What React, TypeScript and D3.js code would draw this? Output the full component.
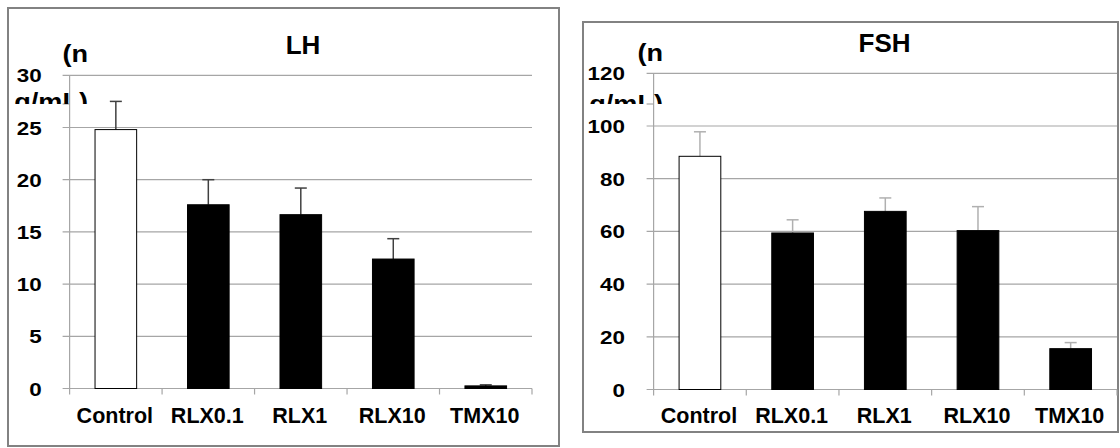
import React from "react";
import * as d3 from "d3";

const categories = ["Control", "RLX0.1", "RLX1", "RLX10", "TMX10"];
const lhMeans = [24.8, 17.6, 16.65, 12.4, 0.25];
const lhErrors = [2.7, 2.4, 2.55, 1.95, 0.1];
const lhTicks = [0, 5, 10, 15, 20, 25, 30];
const fshMeans = [88.5, 59.4, 67.6, 60.3, 15.5];
const fshErrors = [9.3, 5.0, 5.1, 9.1, 2.3];
const fshTicks = [0, 20, 40, 60, 80, 100, 120];
const barFills = ["#ffffff", "#000000", "#000000", "#000000", "#000000"];

const FONT = "'Liberation Sans', Arial, Helvetica, sans-serif";

type PanelProps = {
  id: string;
  title: string;
  means: number[];
  errors: number[];
  ticks: number[];
  frame: { x: number; y: number; w: number; h: number };
  plot: { left: number; right: number; top: number; bottom: number };
  titlePos: { x: number; y: number };
  unit: { x: number; y1: number; y2: number; clip: number };
  tickLabelX: number;
  errColor: string;
};

function Panel(p: PanelProps) {
  const x = d3
    .scaleBand<string>()
    .domain(categories)
    .range([p.plot.left, p.plot.right])
    .padding(0);
  const y = d3
    .scaleLinear()
    .domain([0, p.ticks[p.ticks.length - 1]])
    .range([p.plot.bottom, p.plot.top]);
  const bw = x.bandwidth() * 0.45;
  const tickLen = 7;
  const edges = categories.map((c) => x(c)!).concat([p.plot.right]);
  return (
    <g>
      <rect
        x={p.frame.x}
        y={p.frame.y}
        width={p.frame.w}
        height={p.frame.h}
        fill="#fff"
        stroke="#828282"
        strokeWidth={2}
      />
      <defs>
        <clipPath id={`clip-${p.id}`}>
          <rect x={0} y={0} width={1120} height={p.unit.clip} />
        </clipPath>
      </defs>
      {p.ticks.map((t) => (
        <line
          key={t}
          x1={p.plot.left - tickLen}
          x2={p.plot.right}
          y1={y(t)}
          y2={y(t)}
          stroke="#a6a6a6"
          strokeWidth={1.2}
        />
      ))}
      <line
        x1={p.plot.left}
        x2={p.plot.left}
        y1={p.plot.top}
        y2={p.plot.bottom}
        stroke="#a6a6a6"
        strokeWidth={1.2}
      />
      <line
        x1={p.plot.left - tickLen}
        x2={p.plot.left}
        y1={p.unit.clip}
        y2={p.unit.clip}
        stroke="#a6a6a6"
        strokeWidth={1.2}
      />
      {edges.map((e, i) => (
        <line
          key={i}
          x1={e}
          x2={e}
          y1={p.plot.bottom}
          y2={p.plot.bottom + 6}
          stroke="#a6a6a6"
          strokeWidth={1.2}
        />
      ))}
      {p.ticks.map((t) => (
        <text
          key={t}
          transform={`translate(${p.tickLabelX},${y(t) + 7}) scale(1.18,1)`}
          textAnchor="end"
          fontFamily={FONT}
          fontWeight="bold"
          fontSize={19}
          fill="#000"
        >
          {t}
        </text>
      ))}
      {categories.map((c, i) => {
        const cx = x(c)! + x.bandwidth() / 2;
        const top = y(p.means[i] + p.errors[i]);
        return (
          <g key={c} stroke={p.errColor} strokeWidth={1.5}>
            <line x1={cx} x2={cx} y1={y(p.means[i])} y2={top} />
            <line x1={cx - 6} x2={cx + 6} y1={top} y2={top} />
          </g>
        );
      })}
      {categories.map((c, i) => (
        <rect
          key={c}
          x={x(c)! + (x.bandwidth() - bw) / 2}
          y={y(p.means[i])}
          width={bw}
          height={y(0) - y(p.means[i])}
          fill={barFills[i]}
          stroke="#000"
          strokeWidth={1}
        />
      ))}
      {categories.map((c) => (
        <text
          key={c}
          x={x(c)! + x.bandwidth() / 2 - 1}
          y={423}
          textAnchor="middle"
          fontFamily={FONT}
          fontWeight="bold"
          fontSize={21.5}
          fill="#000"
        >
          {c}
        </text>
      ))}
      <text
        x={p.titlePos.x}
        y={p.titlePos.y}
        textAnchor="middle"
        fontFamily={FONT}
        fontWeight="bold"
        fontSize={26}
        fill="#000"
      >
        {p.title}
      </text>
      <g clipPath={`url(#clip-${p.id})`}>
        <text
          transform={`translate(${p.unit.x},${p.unit.y1}) scale(1.13,1)`}
          textAnchor="end"
          fontFamily={FONT}
          fontWeight="bold"
          fontSize={24}
          fill="#000"
        >
          (n
        </text>
        <text
          transform={`translate(${p.unit.x},${p.unit.y2}) scale(1.13,1)`}
          textAnchor="end"
          fontFamily={FONT}
          fontWeight="bold"
          fontSize={24}
          fill="#000"
        >
          g/mL)
        </text>
      </g>
    </g>
  );
}

export default function App() {
  return (
    <svg
      width={1120}
      height={448}
      style={{ position: "absolute", left: 0, top: 0, background: "#fff" }}
    >
      <rect x={0} y={0} width={1120} height={448} fill="#fff" />
      <Panel
        id="lh"
        title="LH"
        means={lhMeans}
        errors={lhErrors}
        ticks={lhTicks}
        frame={{ x: 8, y: 8, w: 551, h: 438 }}
        plot={{ left: 69.6, right: 532, top: 75.3, bottom: 388.5 }}
        titlePos={{ x: 303, y: 53.5 }}
        unit={{ x: 88, y1: 61.5, y2: 110, clip: 104 }}
        tickLabelX={41.7}
        errColor="#404040"
      />
      <Panel
        id="fsh"
        title="FSH"
        means={fshMeans}
        errors={fshErrors}
        ticks={fshTicks}
        frame={{ x: 583, y: 22, w: 535, h: 410 }}
        plot={{ left: 653.6, right: 1117, top: 73.3, bottom: 389.5 }}
        titlePos={{ x: 884.6, y: 52 }}
        unit={{ x: 663, y1: 60.5, y2: 111.5, clip: 104 }}
        tickLabelX={625}
        errColor="#b0b0b0"
      />
    </svg>
  );
}
